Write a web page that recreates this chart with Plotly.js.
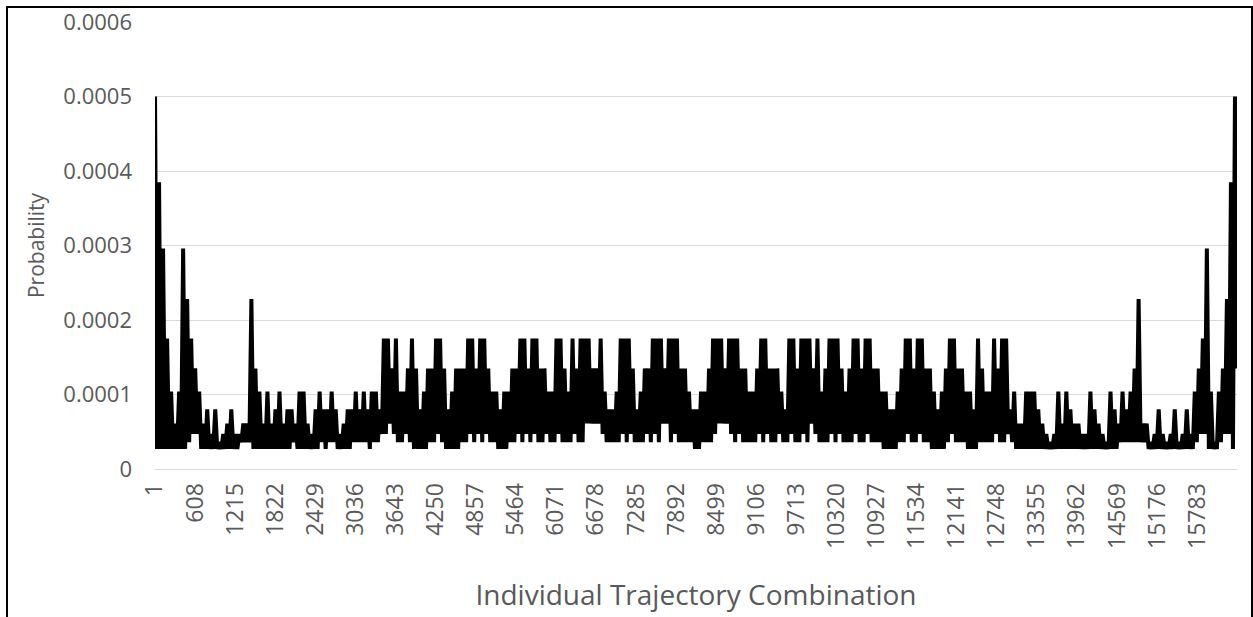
<!DOCTYPE html>
<html>
<head>
<meta charset="utf-8">
<script src="https://cdn.plot.ly/plotly-3.0.1.min.js"></script>
<style>
  html, body { margin: 0; padding: 0; background: #ffffff; overflow: hidden; }
  #chart { position: absolute; left: 0; top: 0; width: 1253px; height: 617px; }
  #frame { position: absolute; left: 6px; top: 6px; width: 1243px; height: 620px;
           border-left: 2px solid #000; border-top: 2px solid #000; border-right: 2px solid #000;
           pointer-events: none; }
</style>
</head>
<body>
<div id="chart"></div>
<div id="frame"></div>
<script>
// ---- data ----
// total number of trajectory combinations on the category axis
const categoryCount = 16384;

// x-axis category tick labels
const xTickLabels = ["1","608","1215","1822","2429","3036","3643","4250","4857","5464",
  "6071","6678","7285","7892","8499","9106","9713","10320","10927","11534",
  "12141","12748","13355","13962","14569","15176","15783"];

// y-axis tick values and labels
const yTickValues = [0, 0.0001, 0.0002, 0.0003, 0.0004, 0.0005, 0.0006];
const yTickLabels = ["0","0.0001","0.0002","0.0003","0.0004","0.0005","0.0006"];

const probability = [
  5e-4,2.7e-5, 3.85e-4,2.7e-5, 2.96e-4,2.7e-5, 1.75e-4,2.7e-5, 1.04e-4,2.7e-5, 6.1e-5,2.7e-5, 1.04e-4,2.7e-5, 2.96e-4,2.7e-5, 2.28e-4,3.6e-5, 1.75e-4,4.7e-5,
  1.35e-4,4.7e-5, 1.04e-4,2.7e-5, 6.1e-5,2.7e-5, 8e-5,2.7e-5, 4.7e-5,2.7e-5, 8e-5,2.7e-5, 3.6e-5,2.7e-5, 4.7e-5,2.7e-5, 6.1e-5,2.7e-5, 8e-5,2.7e-5,
  4.7e-5,2.7e-5, 4.7e-5,3.6e-5, 6.1e-5,3.6e-5, 6.1e-5,3.6e-5, 2.28e-4,2.7e-5, 1.35e-4,2.7e-5, 1.04e-4,2.7e-5, 6.1e-5,2.7e-5, 1.04e-4,2.7e-5, 6.1e-5,2.7e-5,
  8e-5,2.7e-5, 1.04e-4,2.7e-5, 6.1e-5,2.7e-5, 8e-5,2.7e-5, 8e-5,3.6e-5, 6.1e-5,2.7e-5, 1.04e-4,2.7e-5, 1.04e-4,2.7e-5, 6.1e-5,2.7e-5, 4.7e-5,2.7e-5,
  8e-5,2.7e-5, 1.04e-4,3.6e-5, 8e-5,2.7e-5, 8e-5,3.6e-5, 1.04e-4,3.6e-5, 8e-5,2.7e-5, 4.7e-5,2.7e-5, 6.1e-5,2.7e-5, 8e-5,2.7e-5, 8e-5,3.6e-5,
  1.04e-4,3.6e-5, 8e-5,3.6e-5, 1.04e-4,3.6e-5, 8e-5,2.7e-5, 1.04e-4,3.6e-5, 1.04e-4,3.6e-5, 8e-5,4.7e-5, 1.75e-4,4.7e-5, 1.75e-4,6.1e-5, 1.35e-4,4.7e-5,
  1.75e-4,3.6e-5, 1.04e-4,3.6e-5, 1.04e-4,4.7e-5, 1.35e-4,3.6e-5, 1.75e-4,2.7e-5, 1.35e-4,2.7e-5, 8e-5,2.7e-5, 1.04e-4,2.7e-5, 1.35e-4,3.6e-5, 1.35e-4,3.6e-5,
  1.75e-4,4.7e-5, 1.75e-4,3.6e-5, 1.35e-4,2.7e-5, 8e-5,2.7e-5, 1.04e-4,2.7e-5, 1.35e-4,2.7e-5, 1.35e-4,3.6e-5, 1.35e-4,3.6e-5, 1.75e-4,4.7e-5, 1.75e-4,3.6e-5,
  1.35e-4,4.7e-5, 1.75e-4,3.6e-5, 1.75e-4,4.7e-5, 1.35e-4,3.6e-5, 1.04e-4,3.6e-5, 1.04e-4,2.7e-5, 8e-5,2.7e-5, 1.04e-4,2.7e-5, 1.04e-4,3.6e-5, 1.35e-4,3.6e-5,
  1.35e-4,4.7e-5, 1.75e-4,3.6e-5, 1.75e-4,4.7e-5, 1.35e-4,3.6e-5, 1.75e-4,4.7e-5, 1.75e-4,3.6e-5, 1.35e-4,3.6e-5, 1.35e-4,4.7e-5, 1.04e-4,3.6e-5, 1.04e-4,3.6e-5,
  1.75e-4,4.7e-5, 1.75e-4,3.6e-5, 1.35e-4,3.6e-5, 1.04e-4,3.6e-5, 1.75e-4,4.7e-5, 1.35e-4,3.6e-5, 1.75e-4,3.6e-5, 1.75e-4,6.1e-5, 1.75e-4,6.1e-5, 1.35e-4,6.1e-5,
  1.35e-4,6.1e-5, 1.75e-4,4.7e-5, 1.04e-4,3.6e-5, 8e-5,3.6e-5, 8e-5,3.6e-5, 1.04e-4,3.6e-5, 1.75e-4,4.7e-5, 1.75e-4,3.6e-5, 1.75e-4,4.7e-5, 1.35e-4,3.6e-5,
  8e-5,3.6e-5, 1.04e-4,3.6e-5, 1.35e-4,4.7e-5, 1.35e-4,3.6e-5, 1.75e-4,4.7e-5, 1.75e-4,3.6e-5, 1.75e-4,6.1e-5, 1.35e-4,6.1e-5, 1.75e-4,3.6e-5, 1.75e-4,4.7e-5,
  1.75e-4,3.6e-5, 1.35e-4,3.6e-5, 1.35e-4,3.6e-5, 1.04e-4,3.6e-5, 8e-5,2.7e-5, 8e-5,2.7e-5, 1.04e-4,3.6e-5, 1.04e-4,3.6e-5, 1.35e-4,3.6e-5, 1.75e-4,4.7e-5,
  1.75e-4,6.1e-5, 1.75e-4,6.1e-5, 1.35e-4,6.1e-5, 1.75e-4,4.7e-5, 1.75e-4,3.6e-5, 1.75e-4,4.7e-5, 1.35e-4,3.6e-5, 1.35e-4,3.6e-5, 1.04e-4,3.6e-5, 1.04e-4,3.6e-5,
  1.35e-4,4.7e-5, 1.75e-4,3.6e-5, 1.75e-4,4.7e-5, 1.35e-4,3.6e-5, 1.35e-4,3.6e-5, 1.35e-4,4.7e-5, 1.04e-4,3.6e-5, 8e-5,3.6e-5, 1.75e-4,4.7e-5, 1.75e-4,3.6e-5,
  1.35e-4,3.6e-5, 1.75e-4,4.7e-5, 1.75e-4,3.6e-5, 1.75e-4,6.1e-5, 1.35e-4,4.7e-5, 1.75e-4,3.6e-5, 1.04e-4,3.6e-5, 1.35e-4,3.6e-5, 1.75e-4,4.7e-5, 1.75e-4,3.6e-5,
  1.75e-4,4.7e-5, 1.35e-4,3.6e-5, 1.04e-4,3.6e-5, 1.35e-4,3.6e-5, 1.75e-4,4.7e-5, 1.75e-4,3.6e-5, 1.35e-4,3.6e-5, 1.75e-4,4.7e-5, 1.75e-4,3.6e-5, 1.35e-4,3.6e-5,
  1.35e-4,3.6e-5, 1.04e-4,2.7e-5, 1.04e-4,2.7e-5, 8e-5,2.7e-5, 8e-5,2.7e-5, 1.04e-4,3.6e-5, 1.35e-4,3.6e-5, 1.75e-4,4.7e-5, 1.75e-4,3.6e-5, 1.35e-4,3.6e-5,
  1.75e-4,4.7e-5, 1.75e-4,3.6e-5, 1.35e-4,3.6e-5, 1.35e-4,2.7e-5, 1.04e-4,2.7e-5, 8e-5,2.7e-5, 1.04e-4,2.7e-5, 1.35e-4,3.6e-5, 1.75e-4,4.7e-5, 1.75e-4,3.6e-5,
  1.35e-4,3.6e-5, 1.35e-4,3.6e-5, 1.04e-4,2.7e-5, 1.04e-4,2.7e-5, 8e-5,2.7e-5, 1.75e-4,3.6e-5, 1.35e-4,3.6e-5, 1.04e-4,3.6e-5, 1.04e-4,3.6e-5, 1.75e-4,4.7e-5,
  1.35e-4,3.6e-5, 1.75e-4,3.6e-5, 1.75e-4,4.7e-5, 8e-5,3.6e-5, 1.04e-4,2.7e-5, 6.1e-5,2.7e-5, 6.1e-5,2.7e-5, 1.04e-4,2.7e-5, 1.04e-4,2.7e-5, 1.04e-4,2.7e-5,
  8e-5,2.7e-5, 6.1e-5,2.7e-5, 4.7e-5,2.7e-5, 3.6e-5,2.7e-5, 4.7e-5,2.7e-5, 1.04e-4,2.7e-5, 6.1e-5,2.7e-5, 1.04e-4,2.7e-5, 8e-5,2.7e-5, 6.1e-5,2.7e-5,
  6.1e-5,2.7e-5, 4.7e-5,2.7e-5, 4.7e-5,2.7e-5, 1.04e-4,2.7e-5, 8e-5,2.7e-5, 6.1e-5,2.7e-5, 4.7e-5,2.7e-5, 3.6e-5,2.7e-5, 1.04e-4,2.7e-5, 8e-5,2.7e-5,
  6.1e-5,3.6e-5, 1.04e-4,3.6e-5, 8e-5,3.6e-5, 1.04e-4,3.6e-5, 1.35e-4,3.6e-5, 2.28e-4,3.6e-5, 6.1e-5,3.6e-5, 6.1e-5,2.7e-5, 3.6e-5,2.7e-5, 4.7e-5,2.7e-5,
  8e-5,2.7e-5, 4.7e-5,2.7e-5, 3.6e-5,2.7e-5, 4.7e-5,2.7e-5, 8e-5,2.7e-5, 3.6e-5,2.7e-5, 4.7e-5,2.7e-5, 8e-5,2.7e-5, 4.7e-5,2.7e-5, 1.04e-4,3.6e-5,
  1.35e-4,4.7e-5, 1.75e-4,4.7e-5, 2.96e-4,2.7e-5, 1.04e-4,2.7e-5, 3.6e-5,2.7e-5, 1.04e-4,3.6e-5, 1.35e-4,4.7e-5, 2.28e-4,4.7e-5, 3.85e-4,2.7e-5, 5e-4,1.35e-4
];

// category index of each sample (evenly spread over 1..categoryCount)
const step = (categoryCount - 1) / (probability.length - 1);
const combination = probability.map((_, i) => 1 + i * step);

const trace = {
  type: 'scatter',
  mode: 'lines',
  x: combination,
  y: probability,
  line: { color: '#000000', width: 4, simplify: false },
  hoverinfo: 'skip'
};

const tickFont = { family: 'Open Sans, sans-serif', size: 22, color: '#595959' };

const layout = {
  width: 1253,
  height: 617,
  margin: { l: 155, r: 16, t: 22, b: 148 },
  paper_bgcolor: '#ffffff',
  plot_bgcolor: '#ffffff',
  showlegend: false,
  xaxis: {
    range: [0.5, categoryCount + 0.5],
    tickmode: 'array',
    tickvals: xTickLabels.map(Number),
    ticktext: xTickLabels,
    tickangle: -90,
    tickfont: { family: 'Open Sans, sans-serif', size: 23, color: '#595959' },
    ticks: '',
    ticklabelstandoff: 4,
    showgrid: false,
    zeroline: false,
    showline: true,
    linecolor: '#d9d9d9',
    linewidth: 1,
    title: { text: 'Individual Trajectory Combination',
             font: { family: 'Open Sans, sans-serif', size: 28, color: '#595959' },
             standoff: 37 }
  },
  yaxis: {
    range: [0, 0.0006],
    tickmode: 'array',
    tickvals: yTickValues,
    ticktext: yTickLabels,
    tickfont: tickFont,
    ticks: '',
    ticklabelstandoff: 22,
    showgrid: true,
    gridcolor: '#d9d9d9',
    gridwidth: 1,
    zeroline: false,
    showline: false,
    title: { text: 'Probability',
             font: { family: 'Open Sans, sans-serif', size: 21, color: '#595959' },
             standoff: 12 }
  }
};

Plotly.newPlot('chart', [trace], layout, { staticPlot: true, displayModeBar: false });
</script>
</body>
</html>
